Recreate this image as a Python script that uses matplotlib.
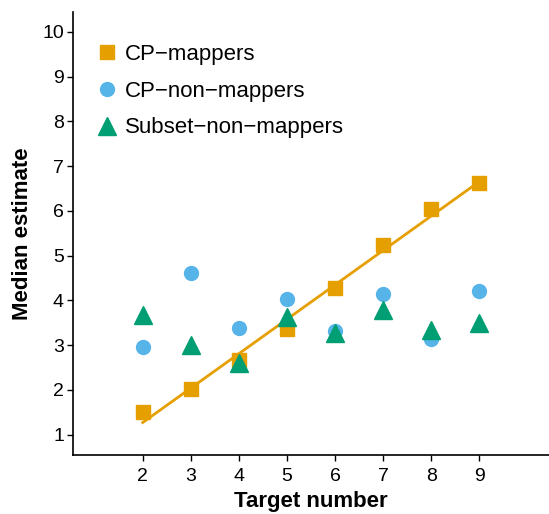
import numpy as np
import matplotlib
matplotlib.use('Agg')
import matplotlib.pyplot as plt

plt.rcParams['font.family'] = ['Liberation Sans', 'DejaVu Sans']

# data
targets = [2, 3, 4, 5, 6, 7, 8, 9]
cp_mappers = [1.50, 2.02, 2.67, 3.36, 4.27, 5.23, 6.04, 6.63]
cp_non_mappers = [2.95, 4.61, 3.38, 4.04, 3.31, 4.15, 3.14, 4.22]
subset_non_mappers = [3.68, 3.01, 2.60, 3.63, 3.27, 3.79, 3.34, 3.49]

fig = plt.figure(figsize=(5.49, 5.14), dpi=100)
ax = fig.add_axes([0.133, 0.115, 0.867, 0.862])

# regression line for CP-mappers
slope, intercept = np.polyfit(targets, cp_mappers, 1)
xs = np.array([targets[0], targets[-1]])
ax.plot(xs, intercept + slope * xs, color='#E69F00', linewidth=2.0, zorder=2)

ax.plot(targets, cp_mappers, 's', color='#E69F00', markersize=10.5,
        label='CP\u2212mappers', zorder=3)
ax.plot(targets, cp_non_mappers, 'o', color='#56B4E9', markersize=10,
        label='CP\u2212non\u2212mappers', zorder=3)
ax.plot(targets, subset_non_mappers, '^', color='#009E73', markersize=13.5,
        label='Subset\u2212non\u2212mappers', zorder=4)

ax.set_xlim(0.55, 10.45)
ax.set_ylim(0.55, 10.45)
ax.set_xticks(targets)
ax.set_yticks(range(1, 11))
ax.tick_params(labelsize=14, length=4, width=1, colors='black', pad=2.5)
ax.tick_params(axis='x', pad=5.5)
ax.spines['top'].set_visible(False)
ax.spines['right'].set_visible(False)
ax.spines['left'].set_linewidth(1.2)
ax.spines['bottom'].set_linewidth(1.2)

ax.set_xlabel('Target number', fontsize=16, fontweight='bold', labelpad=4)
ax.set_ylabel('Median estimate', fontsize=16, fontweight='bold', labelpad=7)

ax.legend(loc='upper left', bbox_to_anchor=(0.029, 0.947), borderaxespad=0,
          frameon=False, fontsize=16, handletextpad=0.3, handlelength=1.0,
          labelspacing=0.7)

fig.savefig('out.png', dpi=100)
